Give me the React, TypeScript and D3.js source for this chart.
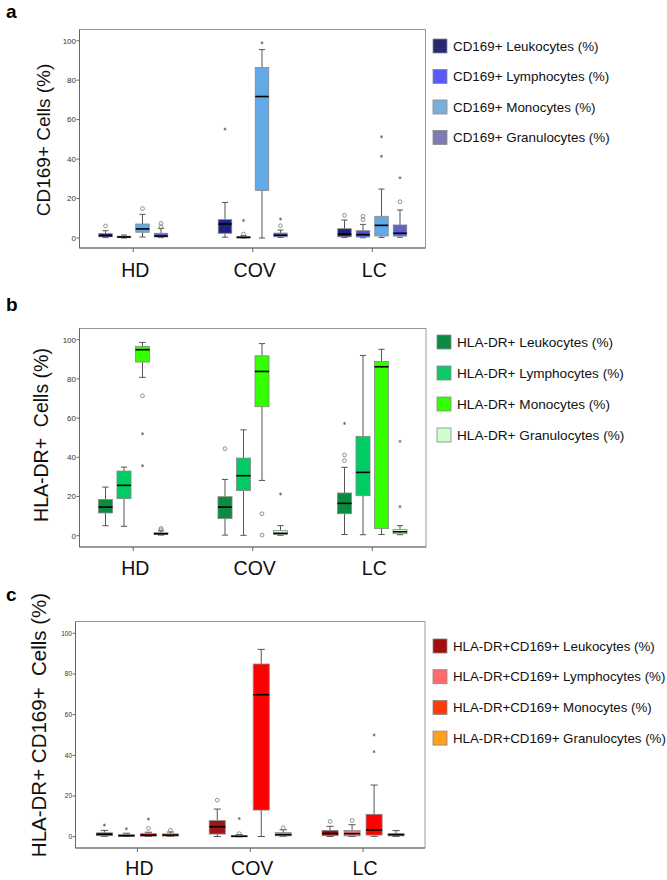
import * as d3 from "d3";

type Stat = [number, number, number, number, number]; // low whisker, q1, median, q3, high whisker

const groups = ["HD", "COV", "LC"];

// panel a: CD169+
const cd169Labels = [
  "CD169+ Leukocytes (%)",
  "CD169+ Lymphocytes (%)",
  "CD169+ Monocytes (%)",
  "CD169+ Granulocytes (%)",
];
const cd169Fill = ["#1c2280", "#4c52e0", "#62aae6", "#5a62c8"];
const cd169Key = ["#272a70", "#5a5af8", "#7aafdc", "#7c7cb2"];
const cd169Stats: Stat[][] = [
  [[0.2, 0.6, 1.2, 2.2, 3.7], [0, 0.2, 0.5, 0.9, 1.5], [0.5, 2.9, 4.6, 7.1, 12], [0.2, 0.5, 1, 2.4, 4.9]],
  [[0.4, 2.4, 7.1, 9.3, 18], [0, 0.1, 0.3, 0.7, 1.2], [0, 24.1, 71.7, 86.4, 95.5], [0.3, 0.6, 1.4, 2.5, 4]],
  [[0.2, 0.6, 2, 4.7, 9.1], [0.1, 0.5, 1.7, 3.7, 6.9], [0.3, 1, 6.4, 11, 24.8], [0.4, 1, 2.4, 6.6, 14.2]],
];
const cd169Mild: number[][][] = [
  [[6.1], [], [14.9], [5.6, 7.4]],
  [[], [2.0], [], [6.2]],
  [[11.5], [9.3, 11], [], [18.4]],
];
const cd169Extreme: number[][][] = [
  [[], [], [], []],
  [[55.2], [8.9], [98.9], [9.6]],
  [[], [], [41.4, 51.3], [30.5]],
];

// panel b: HLA-DR+
const hlaLabels = [
  "HLA-DR+ Leukocytes (%)",
  "HLA-DR+ Lymphocytes (%)",
  "HLA-DR+ Monocytes (%)",
  "HLA-DR+ Granulocytes (%)",
];
const hlaFill = ["#0b8a40", "#00cc66", "#33ff00", "#ccffcc"];
const hlaKey = ["#0f8a45", "#10c86a", "#33ff00", "#ccffcc"];
const hlaStats: Stat[][] = [
  [[5.1, 11.6, 14.6, 18.5, 24.8], [4.8, 18.9, 25.7, 33, 35], [80.8, 88.6, 94.9, 96.6, 98.6], [0.3, 0.6, 1, 1.5, 2.5]],
  [[0.3, 8.7, 14.6, 19.9, 28.7], [0.2, 23, 30.6, 39.6, 54], [28.2, 65.8, 83.8, 91.8, 98], [0.2, 0.6, 1.2, 2.6, 5.1]],
  [[0.6, 11.2, 16.5, 21.8, 34.9], [0.5, 20.4, 32.3, 50.7, 92], [0.6, 3.6, 86.2, 88.9, 95.1], [0.5, 1, 2, 3.2, 5.1]],
];
const hlaMild: number[][][] = [
  [[], [], [71.4], [3, 3.7]],
  [[44.4], [], [11.2, 0.3], []],
  [[38.3, 41.2], [], [], []],
];
const hlaExtreme: number[][][] = [
  [[], [], [52, 35.7], []],
  [[], [], [], [21.3]],
  [[57.3], [], [], [14.8, 48.1]],
];

// panel c: HLA-DR+CD169+
const dualLabels = [
  "HLA-DR+CD169+ Leukocytes (%)",
  "HLA-DR+CD169+ Lymphocytes (%)",
  "HLA-DR+CD169+ Monocytes (%)",
  "HLA-DR+CD169+ Granulocytes (%)",
];
const dualFill = ["#a01414", "#f07474", "#ff0000", "#f0a020"];
const dualKey = ["#a50c0c", "#ff6b6b", "#ff3b0a", "#ffa020"];
const dualStats: Stat[][] = [
  [[0.2, 0.5, 1.2, 1.9, 3.1], [0.1, 0.2, 0.5, 1, 1.7], [0.1, 0.3, 0.7, 1.5, 2.2], [0.1, 0.3, 0.8, 1.4, 2.3]],
  [[0.1, 1.3, 4.9, 7.9, 13.6], [0, 0.1, 0.2, 0.5, 1], [0.1, 13.1, 69.8, 84.9, 92.1], [0.2, 0.4, 1, 2, 3.4]],
  [[0.1, 0.5, 1.6, 3.1, 5.1], [0.1, 0.4, 1.5, 3, 5.9], [0.2, 0.8, 3.3, 11, 25.4], [0.1, 0.4, 1, 1.5, 3]],
];
const dualMild: number[][][] = [
  [[], [], [4.1], [3.2]],
  [[18], [1.5], [], [4.4]],
  [[7.5], [8], [], []],
];
const dualExtreme: number[][][] = [
  [[5.7], [3.9], [8.7], []],
  [[], [8.9], [], []],
  [[], [], [41.8, 50], []],
];

const yTicks = [0, 20, 40, 60, 80, 100];

const FONT = "'Liberation Sans', Arial, sans-serif";

type PanelProps = {
  letter: string;
  letterY: number;
  title: string;
  titleSize: number;
  titleX: number;
  titleY: number;
  labels: string[];
  fill: string[];
  swatch: string[];
  stats: Stat[][];
  mild: number[][][];
  extreme: number[][][];
  frame: { left: number; right: number; top: number; bottom: number };
  yRange: [number, number];
  groupRange: [number, number];
  innerHalf: number;
  boxFrac: number;
  tickSize: number;
  catY: number;
  legendX: number;
  legendY: number;
  legendStep: number;
  legendSize: number;
};

// SPSS-style extreme marker: a tiny asterisk
function Star({ x, y }: { x: number; y: number }) {
  const r = 1.5;
  return (
    <g stroke="#555" strokeWidth={0.7}>
      <line x1={x} y1={y - r} x2={x} y2={y + r} />
      <line x1={x - r * 0.87} y1={y - r * 0.5} x2={x + r * 0.87} y2={y + r * 0.5} />
      <line x1={x - r * 0.87} y1={y + r * 0.5} x2={x + r * 0.87} y2={y - r * 0.5} />
    </g>
  );
}

function Panel(p: PanelProps) {
  const y = d3.scaleLinear().domain([0, 100]).range(p.yRange);
  const gx = d3.scaleBand().domain(groups).range(p.groupRange).padding(0);
  const sx = d3
    .scaleBand()
    .domain(p.labels)
    .range([-p.innerHalf, p.innerHalf])
    .padding(0);
  const bw = sx.bandwidth() * p.boxFrac;
  const cap = bw * 0.45;
  const { left, right, top, bottom } = p.frame;

  return (
    <g fontFamily={FONT}>
      <text x={6} y={p.letterY} fontSize={19} fontWeight="bold">
        {p.letter}
      </text>
      <rect
        x={left}
        y={top}
        width={right - left}
        height={bottom - top}
        fill="none"
        stroke="#999"
        strokeWidth={1}
      />
      <line x1={left} x2={right} y1={bottom} y2={bottom} stroke="#666" />
      <line x1={left} x2={left} y1={top} y2={bottom} stroke="#666" />
      {yTicks.map((t) => (
        <g key={t}>
          <line x1={left - 3} x2={left} y1={y(t)} y2={y(t)} stroke="#666" />
          <text
            x={left - 3.5}
            y={y(t)}
            dy="0.35em"
            fontSize={p.tickSize}
            textAnchor="end"
            fill="#333"
          >
            {t}
          </text>
        </g>
      ))}
      {groups.map((g) => {
        const cx = (gx(g) as number) + gx.bandwidth() / 2;
        return (
          <g key={g}>
            <line x1={cx} x2={cx} y1={bottom} y2={bottom + 4} stroke="#666" />
            <text x={cx + 2} y={p.catY} fontSize={19.5} textAnchor="middle" fill="#111">
              {g}
            </text>
          </g>
        );
      })}
      <text
        transform={`translate(${p.titleX},${p.titleY}) rotate(-90)`}
        fontSize={p.titleSize}
        textAnchor="middle"
        fill="#111"
        style={{ whiteSpace: "pre" }}
      >
        {p.title}
      </text>
      {groups.map((g, gi) =>
        p.labels.map((s, si) => {
          const [lo, q1, med, q3, hi] = p.stats[gi][si];
          const cx =
            (gx(g) as number) + gx.bandwidth() / 2 + (sx(s) as number) + sx.bandwidth() / 2;
          return (
            <g key={g + s}>
              <line x1={cx} x2={cx} y1={y(lo)} y2={y(q1)} stroke="#555" strokeWidth={1} />
              <line x1={cx} x2={cx} y1={y(q3)} y2={y(hi)} stroke="#555" strokeWidth={1} />
              <line x1={cx - cap / 2} x2={cx + cap / 2} y1={y(lo)} y2={y(lo)} stroke="#555" />
              <line x1={cx - cap / 2} x2={cx + cap / 2} y1={y(hi)} y2={y(hi)} stroke="#555" />
              <rect
                x={cx - bw / 2}
                y={y(q3)}
                width={bw}
                height={Math.max(y(q1) - y(q3), 1)}
                fill={p.fill[si]}
                stroke="#888"
                strokeWidth={0.8}
              />
              <line
                x1={cx - bw / 2}
                x2={cx + bw / 2}
                y1={y(med)}
                y2={y(med)}
                stroke="#000"
                strokeWidth={1.6}
              />
              {p.mild[gi][si].map((v, i) => (
                <circle
                  key={"m" + i}
                  cx={cx}
                  cy={y(v)}
                  r={1.9}
                  fill="none"
                  stroke="#777"
                  strokeWidth={0.8}
                />
              ))}
              {p.extreme[gi][si].map((v, i) => (
                <Star key={"e" + i} x={cx} y={y(v)} />
              ))}
            </g>
          );
        })
      )}
      {p.labels.map((s, si) => {
        const cy = p.legendY + si * p.legendStep;
        return (
          <g key={"k" + s}>
            <rect
              x={p.legendX}
              y={cy - 7}
              width={14}
              height={14}
              fill={p.swatch[si]}
              stroke="#888"
              strokeWidth={0.8}
            />
            <text x={p.legendX + 20} y={cy} dy="0.35em" fontSize={p.legendSize} fill="#111">
              {s}
            </text>
          </g>
        );
      })}
    </g>
  );
}

export default function App() {
  return (
    <svg
      width={667}
      height={880}
      viewBox="0 0 667 880"
      style={{ position: "absolute", left: 0, top: 0, background: "#fff" }}
    >
      <rect width={667} height={880} fill="#fff" />
      <Panel
        letter="a"
        letterY={18}
        title="CD169+ Cells (%)"
        titleSize={19}
        titleX={50}
        titleY={140}
        labels={cd169Labels}
        fill={cd169Fill}
        swatch={cd169Key}
        stats={cd169Stats}
        mild={cd169Mild}
        extreme={cd169Extreme}
        frame={{ left: 79.5, right: 425.5, top: 29.5, bottom: 248 }}
        yRange={[238, 40.7]}
        groupRange={[73.5, 432]}
        innerHalf={37}
        boxFrac={0.73}
        tickSize={8}
        catY={277}
        legendX={433}
        legendY={46}
        legendStep={30.5}
        legendSize={13.4}
      />
      <Panel
        letter="b"
        letterY={311}
        title="HLA-DR+  Cells (%)"
        titleSize={19.5}
        titleX={48}
        titleY={435}
        labels={hlaLabels}
        fill={hlaFill}
        swatch={hlaKey}
        stats={hlaStats}
        mild={hlaMild}
        extreme={hlaExtreme}
        frame={{ left: 79.5, right: 426, top: 328.5, bottom: 547 }}
        yRange={[535.7, 339.7]}
        groupRange={[73.5, 432]}
        innerHalf={37}
        boxFrac={0.76}
        tickSize={8}
        catY={575}
        legendX={437}
        legendY={342}
        legendStep={31}
        legendSize={13.6}
      />
      <Panel
        letter="c"
        letterY={601}
        title="HLA-DR+ CD169+  Cells (%)"
        titleSize={20.5}
        titleX={46}
        titleY={725}
        labels={dualLabels}
        fill={dualFill}
        swatch={dualKey}
        stats={dualStats}
        mild={dualMild}
        extreme={dualExtreme}
        frame={{ left: 75.5, right: 425, top: 621.5, bottom: 848 }}
        yRange={[836.7, 633.3]}
        groupRange={[81, 419.5]}
        innerHalf={44}
        boxFrac={0.73}
        tickSize={6.5}
        catY={875}
        legendX={433}
        legendY={646}
        legendStep={30.7}
        legendSize={13.3}
      />
    </svg>
  );
}
